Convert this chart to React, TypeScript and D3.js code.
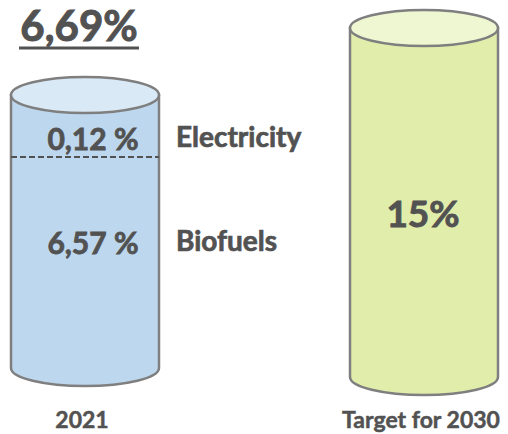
import * as d3 from 'd3';
import React from 'react';

// categories and values
const categories = ['2021', 'Target for 2030'];
const totals = [6.69, 15];
const totalLabels = ['6,69%', '15%'];
const segments = ['Electricity', 'Biofuels'];
const segmentValues = [0.12, 6.57];
const segmentLabels = ['0,12 %', '6,57 %'];

const width = 508;
const height = 434;
const font = 'Lato, "Open Sans", sans-serif';
const textColor = '#525252';
const fills = ['#BDD7EE', '#E1EDAA'];
const topFills = ['#DAE9F6', '#EFF6D2'];
const stroke = '#7F7F7F';

// bold text, slightly thickened to get closer to the heavier original face
const txt = (size: number, weight = 0.7) => ({
	fontFamily: font,
	fontWeight: 700,
	fontSize: size,
	fill: textColor,
	stroke: textColor,
	strokeWidth: weight,
});

const App = () => {
	const x = d3.scalePoint<string>().domain(categories).range([85, 424]);
	// tops and bottoms of the cylinders (infographic, not strictly proportional)
	const top = d3.scaleLinear().domain([totals[0], totals[1]]).range([95, 28]);
	const bottom = d3.scaleLinear().domain([totals[0], totals[1]]).range([368, 377]);
	const rx = 74;
	const ry = 18;

	// segments inside the 2021 cylinder: electricity above the dashed line
	const seg = d3
		.scaleBand<string>()
		.domain(segments)
		.range([top(totals[0]), top(totals[0]) + 124]);
	const split = seg(segments[1]) as number;
	const labelY = [split - 7, split + 97];

	return (
		<svg width={width} height={height} style={{ position: 'absolute', left: 0, top: 0 }}>
			{categories.map((c, i) => {
				const cx = x(c) as number;
				const t = top(totals[i]);
				const b = bottom(totals[i]);
				const body = `M${cx - rx},${t} L${cx - rx},${b} A${rx},${ry} 0 0 0 ${cx + rx},${b} L${cx + rx},${t} Z`;
				return (
					<g key={c}>
						<path d={body} fill={fills[i]} stroke={stroke} strokeWidth={2.5} />
						<ellipse cx={cx} cy={t} rx={rx} ry={ry} fill={topFills[i]} stroke={stroke} strokeWidth={2.5} />
						<text x={cx - 3} y={428} textAnchor="middle" {...txt(23, 0.5)}>
							{c}
						</text>
					</g>
				);
			})}

			{/* total label of 2021, underlined */}
			<text x={79} y={41} textAnchor="middle" {...txt(42, 1)}>
				{totalLabels[0]}
			</text>
			<line x1={19} x2={139} y1={48} y2={48} stroke={textColor} strokeWidth={3} />

			{/* target label */}
			<text x={(x(categories[1]) as number) - 1} y={227} textAnchor="middle" {...txt(37, 0.9)}>
				{totalLabels[1]}
			</text>

			{/* dashed split line */}
			<line
				x1={(x(categories[0]) as number) - rx}
				x2={(x(categories[0]) as number) + rx}
				y1={split}
				y2={split}
				stroke={textColor}
				strokeWidth={2}
				strokeDasharray="6,3"
			/>

			{segments.map((s, i) => (
				<g key={s}>
					<text x={93} y={labelY[i]} textAnchor="middle" data-value={segmentValues[i]} {...txt(30, 0.8)}>
						{segmentLabels[i]}
					</text>
					<text x={176} y={labelY[i] - 3} {...txt(28, 0.7)}>
						{s}
					</text>
				</g>
			))}
		</svg>
	);
};

export default App;
